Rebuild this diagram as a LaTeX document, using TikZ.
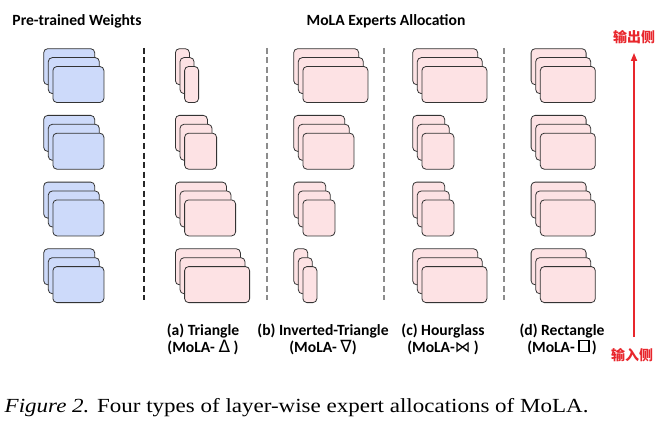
\documentclass[tikz,border=0pt]{standalone}
\usepackage{fontspec}
\setmainfont{Carlito}
\newfontfamily\capfont{Liberation Serif}
\newfontfamily\cjk{Noto Sans CJK SC}
\newfontfamily\symfont{DejaVu Sans}
\usetikzlibrary{positioning, arrows.meta}
\definecolor{weightblue}{HTML}{CDDAFA}
\definecolor{expertpink}{HTML}{FDE2E4}
\definecolor{flowred}{HTML}{E8262C}
\newcommand{\boxsym}{\tikz[baseline=0pt]\draw[line width=1.6pt] (0pt,0.5pt) rectangle (10pt,11.5pt);} % the square glyph
\tikzset{
    x=1pt, y=-1pt, % one unit is one pixel of the layout
    expert/.style={draw=black!80, line width=0.8pt, rounded corners=4pt, fill=expertpink, minimum height=36pt, inner sep=0pt, anchor=north west}, % one LoRA expert
    weight/.style={expert, fill=weightblue}, % a pre-trained weight block
    title/.style={font=\bfseries\fontsize{15.6}{17}\selectfont},
    tag/.style={title, align=center, anchor=north}, % the sub-figure names
    side/.style={font=\cjk\bfseries\fontsize{14}{16}\selectfont, text=flowred, inner sep=0pt},
    divider/.style={line width=1.2pt, dash pattern=on 6pt off 3.5pt},
    flow/.style={-{Triangle[length=8pt,width=6pt]}, draw=flowred, line width=1.6pt},
    }

\begin{document}
\begin{tikzpicture}
\useasboundingbox (0,0) rectangle (661,425);

\node[title, anchor=base] (pretrained) at (77,26) {Pre-trained Weights};
\node[title, anchor=base] (allocation) at (386,26) {MoLA Experts Allocation};

% four layers per column, three experts per layer
\foreach \col/\sty/\x/\ws in {pre/weight/43.3/{51,51,51,51}, tri/expert/175/{14,32,51,65}, inv/expert/293.3/{65,51,32,14}, hour/expert/412.3/{65,32,32,65}, rect/expert/530.7/{55,55,55,55}}{
    \foreach \w [count=\r] in \ws {
        \foreach \k in {0,1,2}
            \node[\sty, minimum width=\w pt] (\col\r\k) at ({\x+4.6*\k}, {48.3+66.7*(\r-1)+8.9*\k}) {};
    }
}

\coordinate (d1a) at (144,48);
\coordinate (d1b) at (144,300);
\draw[divider, black!85] (d1a) -- (d1b);
\foreach \i/\dx in {2/267, 3/384, 4/504}{
    \coordinate (d\i a) at (\dx,48);
    \coordinate (d\i b) at (\dx,300);
    \draw[divider, black!45] (d\i a) -- (d\i b);
}

\node[tag] (tri) at (203,320) {(a) Triangle\\(MoLA- {\symfont\mdseries\fontsize{17}{17}\selectfont Δ} )};
\node[tag] (inv) at (323,320) {(b) Inverted-Triangle\\(MoLA- {\symfont\mdseries\fontsize{17}{17}\selectfont ∇})};
\node[tag] (hour) at (443,320) {(c) Hourglass\\(MoLA-{\symfont\mdseries ⋈} )};
\node[tag] (rect) at (562,320) {(d) Rectangle\\(MoLA- \boxsym\kern2pt)};

\node[side] (out) at (634,37) {输出侧};
\node[side] (in) at (632,355) {输入侧};
\draw[flow, shorten <=11pt, shorten >=9pt] (in.north -| out.south) -- (out.south);

\node[anchor=base west, inner xsep=0pt, xscale=1.15, transform shape, font=\capfont\fontsize{20}{22}\selectfont] (caption) at (4.5,412) {\textit{Figure 2.} Four types of layer-wise expert allocations of MoLA.};
\end{tikzpicture}
\end{document}
